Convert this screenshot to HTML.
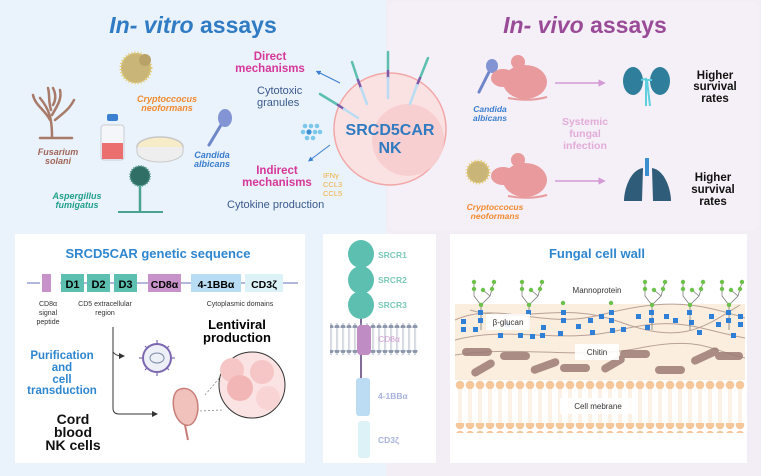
<!DOCTYPE html>
<html><head><meta charset="utf-8"><style>
html,body{margin:0;padding:0;background:#fff;}
svg{display:block;font-family:"Liberation Sans",sans-serif;}
</style></head><body>
<svg width="761" height="476" viewBox="0 0 761 476" xmlns="http://www.w3.org/2000/svg">
<defs>
<pattern id="odot" x="455" y="0" width="10" height="10" patternUnits="userSpaceOnUse"><circle cx="5" cy="5" r="4.3" fill="#f6c79a"/></pattern>
<pattern id="gdot" x="328" y="0" width="6" height="6" patternUnits="userSpaceOnUse"><circle cx="3" cy="3" r="2.5" fill="#8d98ad"/></pattern>
<pattern id="olines" x="455" y="0" width="10" height="10" patternUnits="userSpaceOnUse"><line x1="4" y1="0" x2="4" y2="10" stroke="#f8dcc0" stroke-width="0.8"/><line x1="6" y1="0" x2="6" y2="10" stroke="#f8dcc0" stroke-width="0.8"/></pattern>
<pattern id="glines" x="328" y="0" width="6" height="6" patternUnits="userSpaceOnUse"><line x1="2.5" y1="0" x2="2.5" y2="6" stroke="#b8c0cc" stroke-width="0.6"/><line x1="3.8" y1="0" x2="3.8" y2="6" stroke="#b8c0cc" stroke-width="0.6"/></pattern>
<marker id="ab" viewBox="0 0 10 10" refX="5" refY="5" markerWidth="5" markerHeight="5" orient="auto"><path d="M0,0 L10,5 L0,10 z" fill="#3a7fd0"/></marker>
<marker id="ap" viewBox="0 0 10 10" refX="5" refY="5" markerWidth="5" markerHeight="5" orient="auto"><path d="M0,0 L10,5 L0,10 z" fill="#d39ad6"/></marker>
<marker id="ak" viewBox="0 0 10 10" refX="5" refY="5" markerWidth="6" markerHeight="6" orient="auto"><path d="M0,0 L10,5 L0,10 z" fill="#333"/></marker>
</defs>
<!-- backgrounds -->
<rect x="0" y="0" width="386" height="476" fill="#eaf2fb"/>
<rect x="386" y="0" width="375" height="476" fill="#f3edf5"/>
<rect x="388" y="2" width="371" height="228" rx="8" fill="#f5eff7"/>

<!-- In vitro -->
<text x="193" y="33" text-anchor="middle" font-size="23" font-weight="bold" fill="#2f7bc4"><tspan font-style="italic">In- vitro</tspan> assays</text>
<text x="585" y="33" text-anchor="middle" font-size="23" font-weight="bold" fill="#9a4b98"><tspan font-style="italic">In- vivo</tspan> assays</text>

<!-- Fusarium -->
<g stroke="#a87a6a" stroke-width="2.5" fill="none" stroke-linecap="round">
<path d="M52,137 C52,120 50,110 40,98"/><path d="M50,120 C45,110 35,105 33,95"/><path d="M52,115 C58,105 62,98 60,90"/><path d="M51,110 C48,100 50,95 48,88"/><path d="M55,120 C65,112 70,108 74,100"/><path d="M40,138 L72,138"/><path d="M53,105 C57,98 55,92 53,88"/>
</g>
<text x="58" y="155" text-anchor="middle" font-size="9" font-style="italic" font-weight="bold" fill="#a0655a">Fusarium</text>
<text x="58" y="164" text-anchor="middle" font-size="9" font-style="italic" font-weight="bold" fill="#a0655a">solani</text>
<!-- Cryptococcus -->
<circle cx="136" cy="68" r="15" fill="#c9b577" stroke="#e3c96a" stroke-width="3" stroke-dasharray="1 2"/>
<circle cx="145" cy="60" r="6" fill="#b8a268"/>
<text x="167" y="102" text-anchor="middle" font-size="9" font-style="italic" font-weight="bold" fill="#f08a30">Cryptoccocus</text>
<text x="167" y="111" text-anchor="middle" font-size="9" font-style="italic" font-weight="bold" fill="#f08a30">neoformans</text>
<!-- flask -->
<rect x="101" y="125" width="23" height="35" rx="3" fill="#f4f6fa" stroke="#c8ccd6"/>
<rect x="102" y="143" width="21" height="16" fill="#ec6f6f"/>
<rect x="107" y="114" width="11" height="7" rx="2" fill="#3a7fd0"/>
<!-- petri -->
<ellipse cx="160" cy="147" rx="23" ry="10" fill="#f7ecc8" stroke="#c8c8c8" stroke-width="1.5"/>
<path d="M137,147 L137,152 A23,10 0 0 0 183,152 L183,147" fill="#eee" stroke="#c8c8c8"/>
<!-- candida -->
<line x1="209" y1="145" x2="221" y2="125" stroke="#6f86c8" stroke-width="3" stroke-linecap="round"/>
<ellipse cx="225" cy="118" rx="7" ry="9" fill="#8294d4"/>
<text x="212" y="158" text-anchor="middle" font-size="9" font-style="italic" font-weight="bold" fill="#3a7fd0">Candida</text>
<text x="212" y="167" text-anchor="middle" font-size="9" font-style="italic" font-weight="bold" fill="#3a7fd0">albicans</text>
<!-- aspergillus -->
<circle cx="140" cy="176" r="10" fill="#2f6f66" stroke="#5a9b90" stroke-width="2" stroke-dasharray="1 1.5"/>
<line x1="140" y1="185" x2="140" y2="212" stroke="#4aa392" stroke-width="2.5"/>
<line x1="118" y1="212" x2="163" y2="212" stroke="#4aa392" stroke-width="2"/>
<text x="77" y="199" text-anchor="middle" font-size="9" font-style="italic" font-weight="bold" fill="#20a08c">Aspergillus</text>
<text x="77" y="208" text-anchor="middle" font-size="9" font-style="italic" font-weight="bold" fill="#20a08c">fumigatus</text>

<!-- mechanisms -->
<text x="270" y="60" text-anchor="middle" font-size="11.5" font-weight="bold" fill="#d6379a">Direct</text>
<text x="270" y="72" text-anchor="middle" font-size="11.5" font-weight="bold" fill="#d6379a">mechanisms</text>
<line x1="340" y1="83" x2="318" y2="72" stroke="#3a7fd0" stroke-width="1" marker-end="url(#ab)"/>
<text x="257" y="94" font-size="11" fill="#3a5a8c">Cytotoxic</text>
<text x="257" y="106" font-size="11" fill="#3a5a8c">granules</text>
<g fill="#7cc8ea"><circle cx="305" cy="126" r="2.3"/><circle cx="311" cy="126" r="2.3"/><circle cx="317" cy="126" r="2.3"/><circle cx="303" cy="132" r="2.3"/><circle cx="315" cy="132" r="2.3"/><circle cx="320" cy="132" r="2.3"/><circle cx="307" cy="138" r="2.3"/><circle cx="313" cy="138" r="2.3"/><circle cx="309" cy="132" r="2.6" fill="#3a8fd0"/></g>
<line x1="330" y1="145" x2="310" y2="160" stroke="#3a7fd0" stroke-width="1" marker-end="url(#ab)"/>
<text x="277" y="174" text-anchor="middle" font-size="11.5" font-weight="bold" fill="#d6379a">Indirect</text>
<text x="277" y="186" text-anchor="middle" font-size="11.5" font-weight="bold" fill="#d6379a">mechanisms</text>
<text x="323" y="178" font-size="7.5" fill="#f0b040">IFNγ</text>
<text x="323" y="187" font-size="7.5" fill="#f0b040">CCL3</text>
<text x="323" y="196" font-size="7.5" fill="#f0b040">CCL5</text>
<text x="227" y="208" font-size="11" fill="#3a5a8c">Cytokine production</text>

<!-- NK cell -->
<circle cx="390" cy="129" r="56" fill="#fbe2e2" stroke="#f2a7a7" stroke-width="1.5"/>
<circle cx="408" cy="140" r="36" fill="#f8cfd0"/>
<g stroke-width="2.5" stroke-linecap="round">
<line x1="352" y1="62" x2="358" y2="80" stroke="#5dbfb0"/><line x1="358" y1="80" x2="361" y2="88" stroke="#7d58a8"/><line x1="361" y1="88" x2="367" y2="104" stroke="#b8dcf4"/>
<line x1="320" y1="94" x2="338" y2="105" stroke="#5dbfb0"/><line x1="338" y1="105" x2="344" y2="109" stroke="#7d58a8"/><line x1="344" y1="109" x2="358" y2="118" stroke="#b8dcf4"/>
<line x1="388" y1="52" x2="388" y2="71" stroke="#5dbfb0"/><line x1="388" y1="71" x2="388" y2="78" stroke="#7d58a8"/><line x1="388" y1="78" x2="388" y2="98" stroke="#b8dcf4"/>
<line x1="428" y1="58" x2="420" y2="78" stroke="#5dbfb0"/><line x1="420" y1="78" x2="417" y2="85" stroke="#7d58a8"/><line x1="417" y1="85" x2="410" y2="104" stroke="#b8dcf4"/>
</g>
<text x="390" y="135" text-anchor="middle" font-size="16" font-weight="bold" fill="#2f7ac0">SRCD5CAR</text>
<text x="390" y="153" text-anchor="middle" font-size="16" font-weight="bold" fill="#2f7ac0">NK</text>

<!-- in vivo -->
<line x1="479" y1="92" x2="489" y2="72" stroke="#6f86c8" stroke-width="3" stroke-linecap="round"/>
<ellipse cx="492" cy="66" rx="6" ry="7" fill="#8294d4"/>
<g fill="#e89a9c">
<ellipse cx="525" cy="82" rx="22" ry="17"/><ellipse cx="503" cy="78" rx="12" ry="9"/><circle cx="518" cy="62" r="7"/>
<path d="M508,98 Q530,102 547,97" stroke="#e89a9c" stroke-width="2" fill="none"/>
<ellipse cx="525" cy="180" rx="22" ry="17"/><ellipse cx="503" cy="176" rx="12" ry="9"/><circle cx="518" cy="160" r="7"/>
<path d="M508,196 Q530,200 547,195" stroke="#e89a9c" stroke-width="2" fill="none"/>
</g>
<text x="490" y="112" text-anchor="middle" font-size="8.5" font-style="italic" font-weight="bold" fill="#3a7fd0">Candida</text>
<text x="490" y="121" text-anchor="middle" font-size="8.5" font-style="italic" font-weight="bold" fill="#3a7fd0">albicans</text>
<circle cx="478" cy="172" r="11" fill="#c9b577" stroke="#e3c96a" stroke-width="3" stroke-dasharray="1 2"/>
<text x="495" y="210" text-anchor="middle" font-size="8.5" font-style="italic" font-weight="bold" fill="#f08a30">Cryptoccocus</text>
<text x="495" y="219" text-anchor="middle" font-size="8.5" font-style="italic" font-weight="bold" fill="#f08a30">neoformans</text>
<line x1="555" y1="83" x2="602" y2="83" stroke="#d39ad6" stroke-width="1.5" marker-end="url(#ap)"/>
<line x1="555" y1="181" x2="602" y2="181" stroke="#d39ad6" stroke-width="1.5" marker-end="url(#ap)"/>
<text x="585" y="125" text-anchor="middle" font-size="10.5" font-weight="bold" fill="#e2acd9">Systemic</text>
<text x="585" y="137" text-anchor="middle" font-size="10.5" font-weight="bold" fill="#e2acd9">fungal</text>
<text x="585" y="149" text-anchor="middle" font-size="10.5" font-weight="bold" fill="#e2acd9">infection</text>
<!-- kidneys -->
<ellipse cx="633" cy="81" rx="10" ry="14" fill="#2f7f9c"/>
<ellipse cx="660" cy="81" rx="10" ry="14" fill="#2f7f9c"/>
<path d="M641,80 L646,79 L646,106 M652,80 L647,80 L650,106" stroke="#5dd0e0" stroke-width="2" fill="none"/>
<!-- lungs -->
<path d="M643,168 C630,170 624,190 624,201 L642,201 Z" fill="#2f5c78"/>
<path d="M652,168 C665,170 671,190 671,201 L653,201 Z" fill="#2f5c78"/>
<rect x="645" y="158" width="4" height="18" fill="#3a8fd0"/>
<g font-size="11.5" font-weight="bold" fill="#111" text-anchor="middle">
<text x="715" y="79">Higher</text><text x="715" y="90">survival</text><text x="715" y="102">rates</text>
<text x="713" y="181">Higher</text><text x="713" y="193">survival</text><text x="713" y="205">rates</text>
</g>

<!-- bottom left panel -->
<rect x="15" y="234" width="290" height="229" fill="#fff"/>
<text x="158" y="258" text-anchor="middle" font-size="13" font-weight="bold" fill="#2f86d0">SRCD5CAR genetic sequence</text>
<line x1="27" y1="283" x2="298" y2="283" stroke="#6670b8" stroke-width="1"/>
<rect x="40" y="269" width="20" height="28" fill="#fff"/>
<rect x="42" y="274" width="9" height="18" fill="#c792c9"/>
<rect x="61" y="274" width="23" height="18" fill="#5dbfb0"/><text x="72.5" y="288" text-anchor="middle" font-size="11" font-weight="bold">D1</text>
<rect x="87" y="274" width="23" height="18" fill="#5dbfb0"/><text x="98.5" y="288" text-anchor="middle" font-size="11" font-weight="bold">D2</text>
<rect x="114" y="274" width="23" height="18" fill="#5dbfb0"/><text x="125.5" y="288" text-anchor="middle" font-size="11" font-weight="bold">D3</text>
<rect x="148" y="274" width="33" height="18" fill="#c792c9"/><text x="164.5" y="288" text-anchor="middle" font-size="10.5" font-weight="bold">CD8α</text>
<rect x="191" y="274" width="50" height="18" fill="#b8dcf4"/><text x="216" y="288" text-anchor="middle" font-size="10.5" font-weight="bold">4-1BBα</text>
<rect x="245" y="274" width="38" height="18" fill="#dcf2f6"/><text x="264" y="288" text-anchor="middle" font-size="10.5" font-weight="bold">CD3ζ</text>
<g font-size="7" fill="#333" text-anchor="middle">
<text x="48" y="306">CD8α</text><text x="48" y="315">signal</text><text x="48" y="324">peptide</text>
<text x="105" y="306">CD5 extracellular</text><text x="105" y="315">region</text>
<text x="240" y="306">Cytoplasmic domains</text>
</g>
<text x="237" y="329" text-anchor="middle" font-size="13" font-weight="bold">Lentiviral</text>
<text x="237" y="342" text-anchor="middle" font-size="13" font-weight="bold">production</text>
<g font-size="11.5" font-weight="bold" fill="#2f86d0" text-anchor="middle">
<text x="62" y="359">Purification</text><text x="62" y="371">and</text><text x="62" y="383">cell</text><text x="62" y="394">transduction</text></g>
<g font-size="14" font-weight="bold" fill="#111" text-anchor="middle">
<text x="73" y="424">Cord</text><text x="73" y="437">blood</text><text x="73" y="450">NK cells</text></g>
<path d="M113,327 L113,408 Q113,414 119,414 L155,414" stroke="#333" stroke-width="1" fill="none" marker-end="url(#ak)"/>
<path d="M113,352 Q116,356 122,356" stroke="#333" stroke-width="1" fill="none" marker-end="url(#ak)"/>
<!-- virus -->
<circle cx="157" cy="358" r="14" fill="#eef0f8" stroke="#7c68b0" stroke-width="2"/>
<ellipse cx="157" cy="358" rx="7" ry="5" fill="none" stroke="#7c8aa8" stroke-width="1"/>
<g stroke="#7c68b0" stroke-width="1.2"><line x1="157" y1="340" x2="157" y2="344"/><line x1="157" y1="372" x2="157" y2="376"/><line x1="139" y1="358" x2="143" y2="358"/><line x1="171" y1="358" x2="175" y2="358"/><line x1="145" y1="346" x2="147" y2="348"/><line x1="169" y1="370" x2="167" y2="368"/><line x1="169" y1="346" x2="167" y2="348"/><line x1="145" y1="370" x2="147" y2="368"/></g>
<!-- uterus -->
<path d="M178,390 C170,395 172,420 185,425 C195,428 200,412 197,400 C194,390 186,386 178,390 Z" fill="#f1c1bb" stroke="#c87e78" stroke-width="1.5"/>
<path d="M185,425 L188,440" stroke="#c87e78" stroke-width="2"/>
<!-- zoom cell -->
<line x1="205" y1="395" x2="222" y2="375" stroke="#888" stroke-width="0.8" stroke-dasharray="2 2"/>
<line x1="200" y1="411" x2="222" y2="410" stroke="#888" stroke-width="0.8" stroke-dasharray="2 2"/>
<circle cx="252" cy="385" r="33" fill="#fbe3e3" stroke="#333" stroke-width="1"/>
<circle cx="232" cy="370" r="12" fill="#f6c6c6"/><circle cx="262" cy="372" r="12" fill="#f6c6c6"/><circle cx="240" cy="388" r="13" fill="#f3b6b6"/><circle cx="268" cy="398" r="12" fill="#f8d4d4"/>

<!-- middle panel -->
<rect x="323" y="234" width="113" height="229" fill="#fff"/>
<line x1="361" y1="260" x2="361" y2="400" stroke="#5a3a78" stroke-width="1.5"/>
<rect x="330" y="323" width="88" height="5" fill="url(#gdot)"/>
<rect x="330" y="328" width="88" height="22" fill="url(#glines)"/>
<rect x="330" y="350" width="88" height="5" fill="url(#gdot)"/>
<ellipse cx="361" cy="254" rx="13" ry="14" fill="#5dbfb0"/>
<ellipse cx="361" cy="280" rx="13" ry="14" fill="#5dbfb0"/>
<ellipse cx="361" cy="305" rx="13" ry="14" fill="#5dbfb0"/>
<rect x="357" y="325" width="14" height="30" rx="4" fill="#c08cc4"/>
<rect x="356" y="378" width="14" height="38" rx="3" fill="#bcdcf4"/>
<rect x="358" y="421" width="12" height="37" rx="3" fill="#dcf2f6"/>
<g font-size="8.5" font-weight="bold">
<text x="378" y="258" fill="#7ccab9">SRCR1</text><text x="378" y="283" fill="#7ccab9">SRCR2</text><text x="378" y="308" fill="#7ccab9">SRCR3</text>
<text x="378" y="342" fill="#d29fd3" font-weight="normal">CD8α</text>
<text x="378" y="399" fill="#a6b2dc">4-1BBα</text><text x="378" y="443" fill="#a6b2dc">CD3ζ</text></g>

<!-- right panel -->
<rect x="450" y="234" width="297" height="229" fill="#fff"/>
<text x="597" y="258" text-anchor="middle" font-size="13" font-weight="bold" fill="#2f86d0">Fungal cell wall</text>
<rect x="455" y="304" width="290" height="76" fill="#fbeedf"/>
<g stroke="#a88e86" stroke-width="1" fill="none" opacity="0.8">
<path d="M455,320 C500,300 540,330 600,315 S690,300 745,318"/>
<path d="M455,340 C510,325 560,345 620,330 S700,330 745,338"/>
<path d="M455,355 C520,345 580,360 640,348 S710,350 745,358"/>
<path d="M470,310 C520,325 560,300 620,322 S700,330 740,305"/>
</g>
<g fill="#9c7c76" opacity="0.85">
<rect x="462" y="348" width="30" height="8" rx="4"/><rect x="500" y="352" width="30" height="8" rx="4"/><rect x="530" y="362" width="30" height="8" rx="4" transform="rotate(-20 545 366)"/><rect x="560" y="364" width="30" height="8" rx="4"/><rect x="620" y="350" width="30" height="8" rx="4"/><rect x="655" y="366" width="30" height="8" rx="4"/><rect x="690" y="352" width="30" height="8" rx="4" transform="rotate(-25 705 356)"/><rect x="715" y="352" width="28" height="8" rx="4"/><rect x="470" y="364" width="26" height="8" rx="4" transform="rotate(-30 483 368)"/><rect x="600" y="360" width="26" height="8" rx="4" transform="rotate(-30 613 364)"/>
</g>
<!-- mannoproteins -->
<g stroke="#7a7a7a" stroke-width="0.8" fill="none">
<path d="M481,330 L481,305 L474,296 L474,282 M481,305 L490,296 L494,282 M490,296 L483,290"/>
<path d="M529,330 L529,305 L522,296 L522,282 M529,305 L538,296 L542,282 M538,296 L531,290"/>
<path d="M652,330 L652,305 L645,296 L645,282 M652,305 L661,296 L665,282 M661,296 L654,290"/>
<path d="M690,330 L690,305 L683,296 L683,282 M690,305 L699,296 L703,282 M699,296 L692,290"/>
<path d="M729,330 L729,305 L722,296 L722,282 M729,305 L738,296 L742,282 M738,296 L731,290"/>
</g>
<g fill="#6cc24a">
<circle cx="474" cy="282" r="2.2"/><circle cx="474" cy="289" r="2.2"/><circle cx="494" cy="282" r="2.2"/><circle cx="492" cy="289" r="2.2"/><circle cx="483" cy="290" r="2.2"/><circle cx="481" cy="305" r="2.2"/>
<circle cx="522" cy="282" r="2.2"/><circle cx="522" cy="289" r="2.2"/><circle cx="542" cy="282" r="2.2"/><circle cx="540" cy="289" r="2.2"/><circle cx="531" cy="290" r="2.2"/><circle cx="529" cy="305" r="2.2"/>
<circle cx="645" cy="282" r="2.2"/><circle cx="645" cy="289" r="2.2"/><circle cx="665" cy="282" r="2.2"/><circle cx="663" cy="289" r="2.2"/><circle cx="654" cy="290" r="2.2"/><circle cx="652" cy="305" r="2.2"/>
<circle cx="683" cy="282" r="2.2"/><circle cx="683" cy="289" r="2.2"/><circle cx="703" cy="282" r="2.2"/><circle cx="701" cy="289" r="2.2"/><circle cx="692" cy="290" r="2.2"/><circle cx="690" cy="305" r="2.2"/>
<circle cx="722" cy="282" r="2.2"/><circle cx="722" cy="289" r="2.2"/><circle cx="742" cy="282" r="2.2"/><circle cx="740" cy="289" r="2.2"/><circle cx="731" cy="290" r="2.2"/><circle cx="729" cy="305" r="2.2"/>
<circle cx="563" cy="303" r="2.2"/><circle cx="611" cy="303" r="2.2"/>
</g>
<g fill="#2f7fd6">
<rect x="478" y="310" width="5" height="5"/><rect x="478" y="318" width="5" height="5"/><rect x="526" y="310" width="5" height="5"/><rect x="649" y="310" width="5" height="5"/><rect x="649" y="318" width="5" height="5"/><rect x="687" y="310" width="5" height="5"/><rect x="726" y="310" width="5" height="5"/><rect x="726" y="318" width="5" height="5"/>
<rect x="461" y="319" width="5" height="5"/><rect x="461" y="327" width="5" height="5"/><rect x="473" y="327" width="5" height="5"/><rect x="498" y="333" width="5" height="5"/><rect x="518" y="333" width="5" height="5"/><rect x="530" y="334" width="5" height="5"/><rect x="541" y="325" width="5" height="5"/><rect x="558" y="331" width="5" height="5"/><rect x="561" y="310" width="5" height="5"/><rect x="561" y="318" width="5" height="5"/><rect x="576" y="324" width="5" height="5"/><rect x="588" y="318" width="5" height="5"/><rect x="599" y="314" width="5" height="5"/><rect x="609" y="310" width="5" height="5"/><rect x="609" y="318" width="5" height="5"/><rect x="610" y="328" width="5" height="5"/><rect x="621" y="327" width="5" height="5"/><rect x="636" y="314" width="5" height="5"/><rect x="645" y="325" width="5" height="5"/><rect x="664" y="314" width="5" height="5"/><rect x="673" y="318" width="5" height="5"/><rect x="689" y="320" width="5" height="5"/><rect x="697" y="330" width="5" height="5"/><rect x="709" y="314" width="5" height="5"/><rect x="716" y="322" width="5" height="5"/><rect x="738" y="314" width="5" height="5"/><rect x="738" y="322" width="5" height="5"/><rect x="731" y="333" width="5" height="5"/><rect x="505" y="322" width="5" height="5"/><rect x="540" y="333" width="5" height="5"/><rect x="590" y="330" width="5" height="5"/>
</g>
<rect x="455" y="379" width="290" height="10" fill="url(#odot)"/>
<rect x="455" y="389" width="290" height="34" fill="url(#olines)"/>
<rect x="455" y="423" width="290" height="10" fill="url(#odot)"/>
<rect x="563" y="284" width="68" height="16" fill="#fff" opacity="0.9"/>
<rect x="486" y="314" width="44" height="16" fill="#fff" opacity="0.9"/>
<rect x="575" y="344" width="44" height="16" fill="#fff" opacity="0.9"/>
<rect x="560" y="398" width="76" height="16" fill="#fff" opacity="0.9"/>
<g font-size="8" fill="#333" text-anchor="middle">
<text x="597" y="293">Mannoprotein</text>
<text x="508" y="325">β-glucan</text>
<text x="597" y="355">Chitin</text>
<text x="598" y="409">Cell mebrane</text></g>
</svg>
</body></html>
